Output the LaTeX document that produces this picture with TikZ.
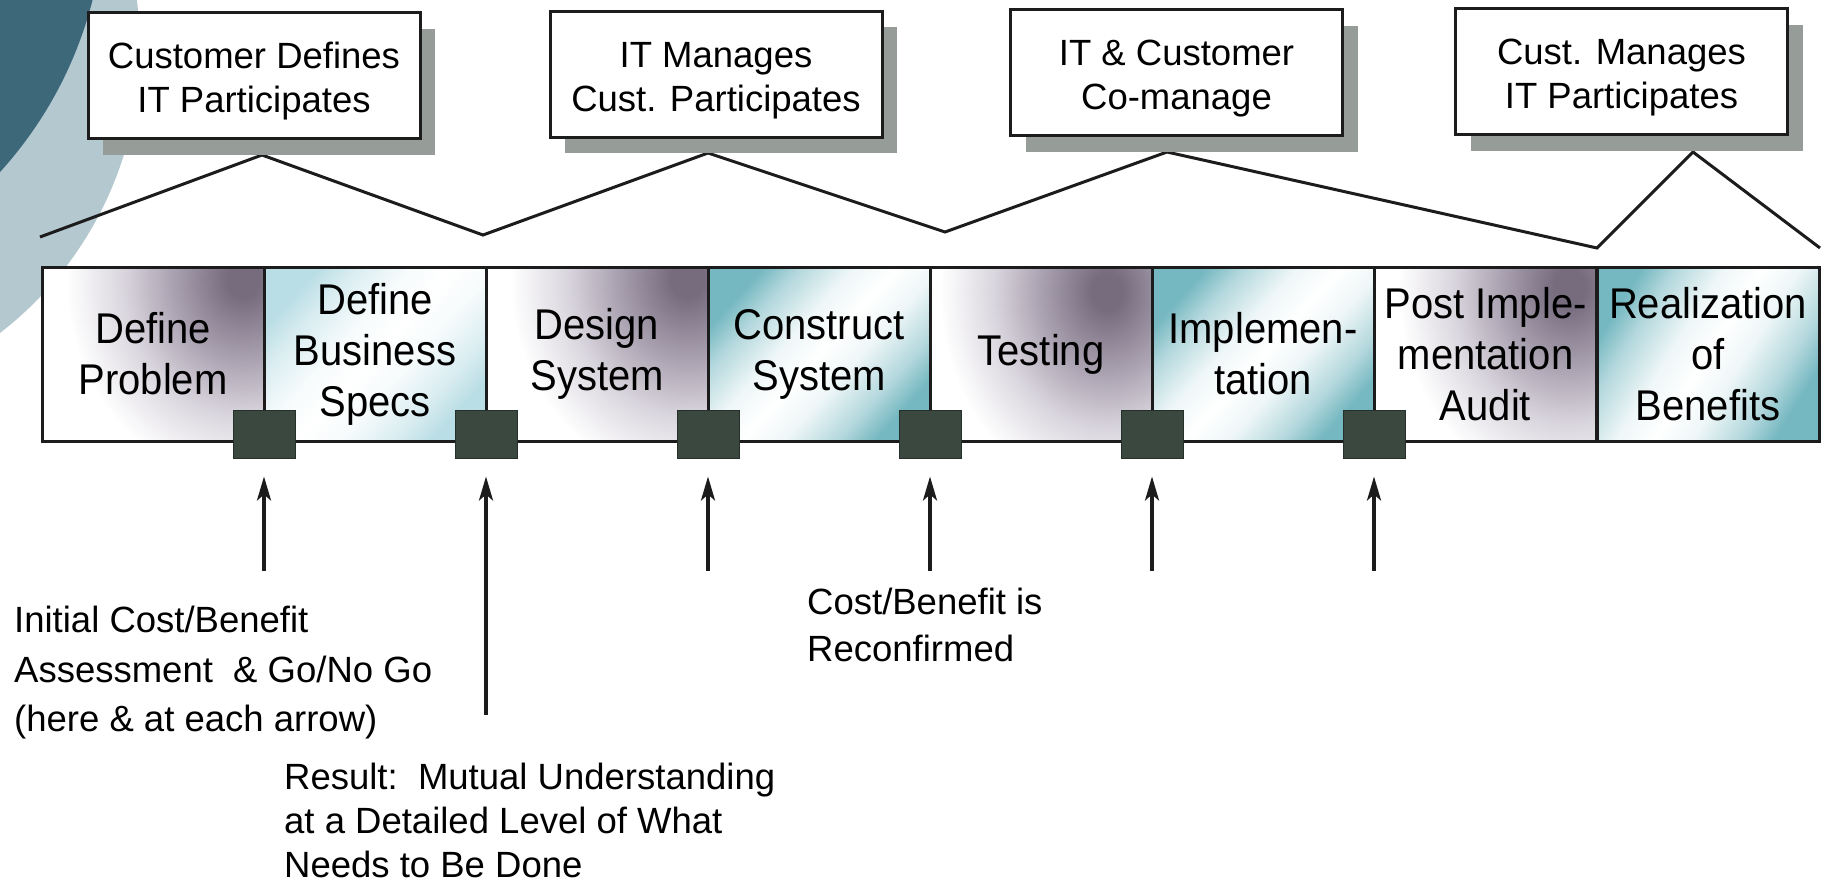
\documentclass[tikz,border=0pt]{standalone}
\usepackage{fontspec}
\setmainfont{Liberation Sans}
\newfontfamily\phasefont[FakeStretch=0.93]{Liberation Sans}
\usetikzlibrary{arrows.meta,shadows}

\definecolor{ringlight}{RGB}{180,200,208}
\definecolor{ringdark}{RGB}{60,104,122}
\definecolor{shadowgray}{RGB}{150,157,152}
\definecolor{gatefill}{RGB}{58,72,64}
\definecolor{gateedge}{RGB}{38,48,42}
\definecolor{ink}{RGB}{28,28,28}
\definecolor{pgdark}{RGB}{118,108,126}
\definecolor{pgmid}{RGB}{164,155,171}
\definecolor{pglight}{RGB}{218,214,222}
\definecolor{tealA}{RGB}{118,184,193}
\definecolor{tealB}{RGB}{186,222,229}

% purple-grey glow used in the odd phase boxes
\pgfdeclareradialshading{dusk}{\pgfpoint{0bp}{0bp}}{color(0bp)=(pgdark); color(2bp)=(pgdark); color(8bp)=(pgmid); color(15bp)=(pglight); color(22bp)=(white); color(50bp)=(white)}
% teal corners with a soft white diagonal band, used in the even phase boxes
\pgfdeclarehorizontalshading{tealstrong}{100bp}{color(0bp)=(tealA); color(25bp)=(tealA); color(32bp)=(tealA!55!white); color(42bp)=(tealA!12!white); color(50bp)=(white); color(58bp)=(tealA!12!white); color(68bp)=(tealA!55!white); color(75bp)=(tealA); color(100bp)=(tealA)}
\pgfdeclarehorizontalshading{tealpale}{100bp}{color(0bp)=(tealB); color(25bp)=(tealB); color(32bp)=(tealB!55!white); color(42bp)=(tealB!12!white); color(50bp)=(white); color(58bp)=(tealB!12!white); color(68bp)=(tealB!55!white); color(75bp)=(tealB); color(100bp)=(tealB)}

\tikzset{
  rolebox/.style={draw=ink, line width=3pt, fill=white, minimum width=332pt,
    minimum height=126pt, inner sep=0pt, align=center,
    font=\fontsize{36.5}{44}\selectfont,
    drop shadow={shadow xshift=15pt, shadow yshift=-16pt, fill=shadowgray,
      opacity=1, draw=none}},
  phase/.style={draw=ink, line width=3pt, minimum width=222pt,
    minimum height=174pt, inner sep=0pt, align=center,
    font=\phasefont\fontsize{43}{51}\selectfont},
  duskbox/.style={phase, fill=white, path picture={
    \shade[shading=dusk] ([shift={(#1)}]path picture bounding box.north east)
      ellipse[x radius=190pt, y radius=230pt];}},
  tealbox/.style 2 args={phase, path picture={
    \shade[shading=#1, shading angle=#2] (path picture bounding box.south west)
      rectangle (path picture bounding box.north east);}},
  gate/.style={fill=gatefill, draw=gateedge, line width=1pt,
    minimum width=62pt, minimum height=48pt, inner sep=0pt},
  gatearrow/.style={draw=ink, line width=3.5pt,
    -{Stealth[length=24pt, width=14pt, inset=6pt]}, shorten >=18pt},
  zig/.style={draw=ink, line width=3pt, line join=miter},
  note/.style={inner sep=0pt, align=left, anchor=north west},
}
% strut that lowers the two-line captions inside the upper boxes
\newcommand{\toplift}{\rule{0pt}{38pt}}

\begin{document}
\begin{tikzpicture}[x=1pt, y=-1pt]
\useasboundingbox (0,0) rectangle (1830,884);

% background disc and ring in the upper left corner
\begin{scope}
  \clip (0,0) rectangle (1830,884);
  \fill[ringlight] (-220,48) circle[radius=360pt];
  \fill[ringdark] (-300,-100) circle[radius=405pt];
\end{scope}

% zigzag linking the responsibility boxes to the phase row
\coordinate (z0) at (40,237);
\coordinate (a1) at (262,155);
\coordinate (v1) at (483,235);
\coordinate (a2) at (708,153);
\coordinate (v2) at (945,232);
\coordinate (a3) at (1167,152);
\coordinate (v3) at (1597,248);
\coordinate (a4) at (1693,152);
\coordinate (z9) at (1820,248);
\draw[zig] (z0) -- (a1) -- (v1) -- (a2) -- (v2) -- (a3) -- (v3) -- (a4) -- (z9);

% responsibility boxes
\node[rolebox] (r1) at (254,75.5) {\toplift Customer Defines\\IT Participates};
\node[rolebox] (r2) at (716,74) {\toplift IT Manages\\Cust. Participates};
\node[rolebox] (r3) at (1176.5,72.5) {\toplift IT \& Customer\\Co-manage};
\node[rolebox] (r4) at (1621.5,71.5) {\toplift Cust. Manages\\IT Participates};

% phase row
\node[duskbox={-10,12}] (p1) at (153,354) {Define\\Problem};
\node[tealbox={tealpale}{-42}] (p2) at (375,354) {Define\\Business\\Specs};
\node[duskbox={-10,12}] (p3) at (597,354) {Design\\System};
\node[tealbox={tealstrong}{-42}] (p4) at (819,354) {Construct\\System};
\node[duskbox={-45,25}] (p5) at (1041,354) {Testing};
\node[tealbox={tealstrong}{-42}] (p6) at (1263,354) {Implemen-\\tation};
\node[duskbox={-22,20}] (p7) at (1485.5,354) {Post Imple-\\mentation\\Audit};
\node[tealbox={tealstrong}{-32}] (p8) at (1708,354) {Realization\\of\\Benefits};

% decision gates between the phases
\node[gate] (g1) at (264,434) {};
\node[gate] (g2) at (486,434) {};
\node[gate] (g3) at (708,434) {};
\node[gate] (g4) at (930,434) {};
\node[gate] (g5) at (1152,434) {};
\node[gate] (g6) at (1374,434) {};

% review arrows pointing at the gates
\coordinate (t1) at (264,571);
\coordinate (t2) at (486,715);
\coordinate (t3) at (708,571);
\coordinate (t4) at (930,571);
\coordinate (t5) at (1152,571);
\coordinate (t6) at (1374,571);
\foreach \i in {1,...,6} \draw[gatearrow] (t\i) -- (g\i);

% notes
\node[note, font=\fontsize{36.5}{49.5}\selectfont] (n1) at (14,606)
  {Initial Cost/Benefit\\Assessment\ \ \& Go/No Go\\(here \& at each arrow)};
\node[note, font=\fontsize{36.5}{44}\selectfont] (n2) at (284,763)
  {Result:\ \ Mutual Understanding\\at a Detailed Level of What\\Needs to Be Done};
\node[note, font=\fontsize{36.5}{47}\selectfont] (n3) at (807,588)
  {Cost/Benefit is\\Reconfirmed};
\end{tikzpicture}
\end{document}
